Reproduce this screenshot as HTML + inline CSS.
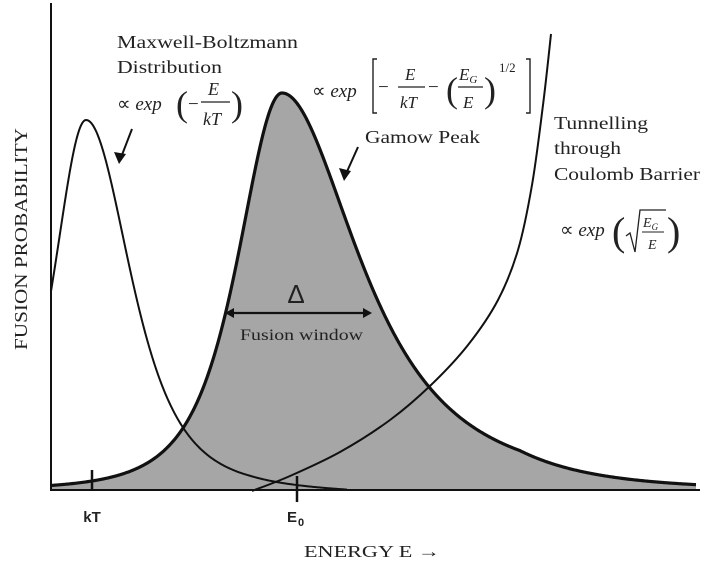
<!DOCTYPE html>
<html><head><meta charset="utf-8"><style>
html,body{margin:0;padding:0;background:#fff;}
svg{display:block;}
text{font-family:"Liberation Serif",serif;fill:#222;}
.it{font-style:italic;}
.sans{font-family:"Liberation Sans",sans-serif;font-weight:bold;}
</style></head><body>
<svg id="s" width="710" height="562" viewBox="0 0 710 562" xmlns="http://www.w3.org/2000/svg">
<path id="gfill" fill="#a6a6a6" stroke="none"/>
<path id="mb" fill="none" stroke="#111" stroke-width="2"/>
<path id="tun" fill="none" stroke="#111" stroke-width="2"/>
<path id="gam" fill="none" stroke="#111" stroke-width="3.2"/>
<line x1="51" y1="3" x2="51" y2="491" stroke="#111" stroke-width="2"/>
<line x1="51" y1="490" x2="700" y2="490" stroke="#111" stroke-width="2"/>
<line x1="92" y1="470" x2="92" y2="490" stroke="#111" stroke-width="2.5"/>
<line x1="297" y1="476" x2="297" y2="502" stroke="#111" stroke-width="2.5"/>
<text class="sans" x="92" y="522" font-size="15" text-anchor="middle">kT</text>
<text class="sans" x="292" y="522" font-size="15" text-anchor="middle">E</text><text class="sans" x="298" y="526" font-size="11">0</text>
<text x="304" y="557" font-size="17" textLength="136" lengthAdjust="spacingAndGlyphs">ENERGY E  →</text>
<text x="0" y="0" font-size="18" transform="translate(27,350) rotate(-90)" textLength="222" lengthAdjust="spacingAndGlyphs">FUSION PROBABILITY</text>
<text x="117" y="48" font-size="18" textLength="181" lengthAdjust="spacingAndGlyphs">Maxwell-Boltzmann</text>
<text x="117" y="73" font-size="18" textLength="105" lengthAdjust="spacingAndGlyphs">Distribution</text>
<text x="117" y="110" font-size="19">∝ <tspan class="it">exp</tspan></text>
<text x="176" y="116" font-size="36">(</text>
<text x="188" y="110" font-size="19">−</text>
<text class="it" x="208" y="95" font-size="18">E</text>
<line x1="201" y1="102" x2="230" y2="102" stroke="#222" stroke-width="1.2"/>
<text class="it" x="203" y="125" font-size="18">kT</text>
<text x="231" y="116" font-size="36">)</text>
<line x1="132" y1="129" x2="120" y2="160" stroke="#111" stroke-width="2"/>
<path d="M114,152 L119,164 L126,154 Z" fill="#111"/>
<text x="312" y="97" font-size="19">∝ <tspan class="it">exp</tspan></text>
<path d="M377,59 L373,59 L373,113 L377,113" fill="none" stroke="#222" stroke-width="1.4"/>
<path d="M526,59 L530,59 L530,113 L526,113" fill="none" stroke="#222" stroke-width="1.4"/>
<text x="378" y="93" font-size="19">−</text>
<text class="it" x="405" y="80" font-size="17">E</text>
<line x1="398" y1="87" x2="425" y2="87" stroke="#222" stroke-width="1.2"/>
<text class="it" x="400" y="108" font-size="17">kT</text>
<text x="428" y="93" font-size="19">−</text>
<text x="446" y="102" font-size="36">(</text>
<text class="it" x="459" y="80" font-size="17">E<tspan font-size="11" dy="3">G</tspan></text>
<line x1="458" y1="87" x2="483" y2="87" stroke="#222" stroke-width="1.2"/>
<text class="it" x="463" y="108" font-size="17">E</text>
<text x="484" y="102" font-size="36">)</text>
<text x="499" y="72" font-size="13">1/2</text>
<text x="365" y="143" font-size="18" textLength="115" lengthAdjust="spacingAndGlyphs">Gamow Peak</text>
<line x1="358" y1="147" x2="345" y2="176" stroke="#111" stroke-width="2"/>
<path d="M339,168 L344,181 L351,171 Z" fill="#111"/>
<text x="554" y="129" font-size="18" textLength="94" lengthAdjust="spacingAndGlyphs">Tunnelling</text>
<text x="554" y="154" font-size="18" textLength="67" lengthAdjust="spacingAndGlyphs">through</text>
<text x="554" y="180" font-size="18" textLength="146" lengthAdjust="spacingAndGlyphs">Coulomb Barrier</text>
<text x="560" y="236" font-size="19">∝ <tspan class="it">exp</tspan></text>
<text x="612" y="245" font-size="40">(</text>
<text x="667" y="245" font-size="40">)</text>
<path d="M626,236 L630,233 L635,252 L640,210 L666,210" fill="none" stroke="#222" stroke-width="1.3"/>
<text class="it" x="643" y="227" font-size="14">E<tspan font-size="9" dy="3">G</tspan></text>
<line x1="642" y1="232" x2="664" y2="232" stroke="#222" stroke-width="1.1"/>
<text class="it" x="648" y="249" font-size="14">E</text>
<text x="296" y="303" font-size="26" text-anchor="middle" style="font-family:'Liberation Sans',sans-serif">Δ</text>
<line x1="230" y1="313" x2="367" y2="313" stroke="#111" stroke-width="2.2"/>
<path d="M225,313 L234,308 L234,318 Z" fill="#111"/>
<path d="M372,313 L363,308 L363,318 Z" fill="#111"/>
<text x="240" y="340" font-size="16" textLength="123" lengthAdjust="spacingAndGlyphs">Fusion window</text>
</svg>
<script>
function cr(p){let d="M"+p[0][0]+","+p[0][1];for(let i=0;i<p.length-1;i++){const a=p[i-1]||p[i],b=p[i],c=p[i+1],e=p[i+2]||c;
d+=" C"+(b[0]+(c[0]-a[0])/6).toFixed(1)+","+(b[1]+(c[1]-a[1])/6).toFixed(1)+" "+(c[0]-(e[0]-b[0])/6).toFixed(1)+","+(c[1]-(e[1]-b[1])/6).toFixed(1)+" "+c[0]+","+c[1];}return d;}
function gam(x){const dx=x-282;let h;
 if(dx<0){const u=dx/80;h=Math.pow(1+u*u,-2);}
 else{const w=143+50*Math.min(dx/238,1);const u=dx/w;h=Math.pow(1+u*u,-2.5);}
 return 490-397*h;}
function mb(x){const dx=x-86;const w=dx<0?58:81;const u=dx/w;return 490-370*Math.pow(1+u*u,-2)+ (x>250?(x-250)*0.025:0);}
let gp=[],mp=[];
for(let x=51;x<=696;x+=1)gp.push(x+","+gam(x).toFixed(2));
for(let x=51;x<=347;x+=1)mp.push(x+","+Math.min(mb(x),492).toFixed(2));
const gd="M"+gp.join(" L");
document.getElementById("gam").setAttribute("d",gd);
document.getElementById("gfill").setAttribute("d",gd+" L696,490 L51,490 Z");
document.getElementById("mb").setAttribute("d","M"+mp.join(" L"));
const t=[[252,491],[290,476],[340,452],[390,420],[431,385],[468,345],[498,300],[518,250],[532,185],[543,105],[551,34]];
document.getElementById("tun").setAttribute("d",cr(t));
</script>
</body></html>
